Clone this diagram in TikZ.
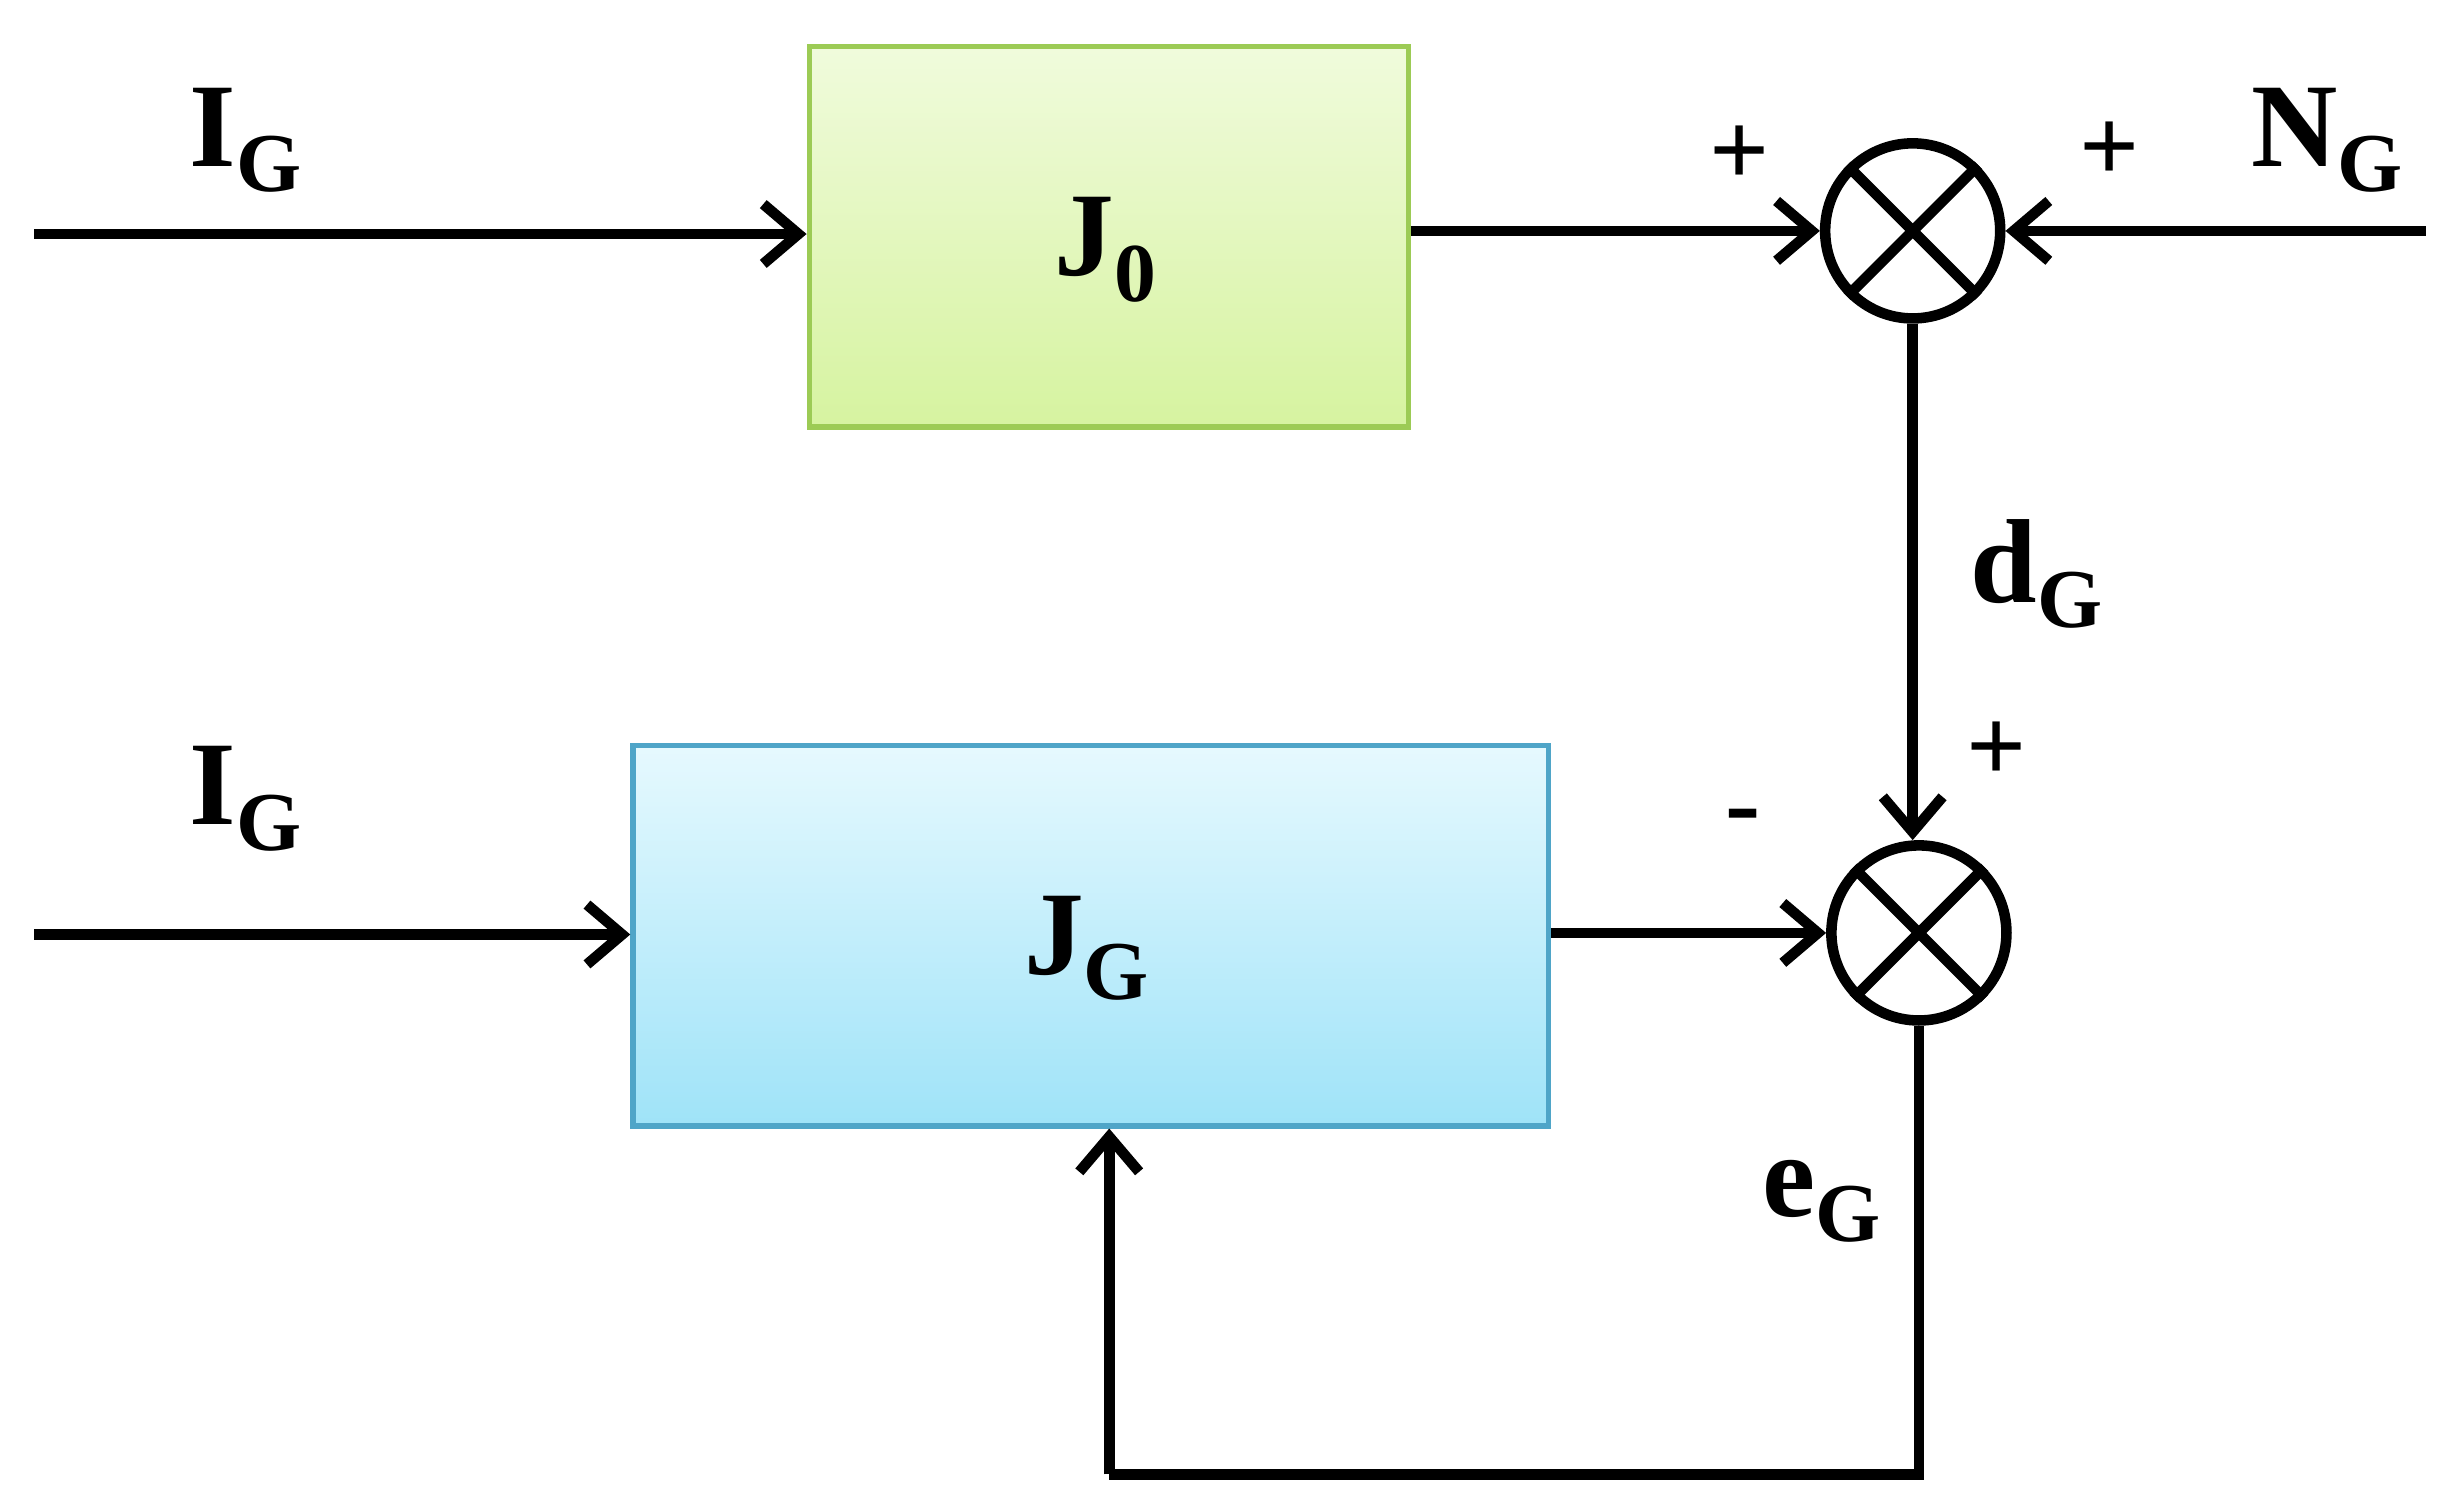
\documentclass[tikz,border=0pt]{standalone}
\usepackage{fontspec}
\setmainfont{Liberation Serif}
\usetikzlibrary{arrows.meta,shapes.geometric}
\definecolor{gtop}{HTML}{F0FBDC}\definecolor{gbot}{HTML}{D6F3A0}\definecolor{gbrd}{HTML}{9CCB55}
\definecolor{btop}{HTML}{E6F9FE}\definecolor{bbot}{HTML}{9FE3F8}\definecolor{bbrd}{HTML}{4FA5C8}
\begin{document}
\begin{tikzpicture}[x=0.0156cm,y=-0.0156cm,
  wire/.style={line width=3pt,-{Straight Barb[length=10pt,width=17pt,line width=3pt]}},
  line/.style={line width=3pt},
  sum/.style={circle,draw,line width=3pt,minimum size=1.75cm,inner sep=0pt},
  lab/.style={font=\bfseries\fontsize{34}{40}\selectfont},
  sgn/.style={font=\bfseries\fontsize{30}{36}\selectfont}]
\useasboundingbox (0,0) rectangle (1564,968);
\node[draw=gbrd,line width=1.5pt,top color=gtop,bottom color=gbot,minimum width=384*0.0156cm,minimum height=244*0.0156cm,anchor=north west] (J0) at (517,28) {};
\node[lab] (J0t) at (709,160) {J\textsubscript{0}};
\node[draw=bbrd,line width=1.5pt,top color=btop,bottom color=bbot,minimum width=587*0.0156cm,minimum height=244*0.0156cm,anchor=north west] (JG) at (404,476) {};
\node[lab] (JGt) at (697,608) {J\textsubscript{G}};
\node[sum] (s1) at (1226,148) {};
\node[sum] (s2) at (1230,598) {};
\foreach \s in {s1,s2}{
  \draw[line] (\s.45) -- (\s.225);
  \draw[line] (\s.135) -- (\s.315);}
\coordinate (i1) at (22,150); \coordinate (i2) at (22,599);
\coordinate (n) at (1555,148);
\coordinate (c1) at (1230,945); \coordinate (c2) at (711,945);
\draw[wire] (i1) -- (J0.west|-i1);
\draw[wire] (i2) -- (JG.west|-i2);
\draw[wire] (J0.east|-s1) -- (s1.west);
\draw[wire] (n) -- (s1.east);
\draw[wire] (s1.south) -- (s1.south|-s2.north);
\draw[wire] (JG.east|-s2) -- (s2.west);
\draw[line] (s2.south) -- (c1) -- (c2);
\draw[wire] (c2) -- (JG.south-|c2);
\node[lab] (l1) at (158,90) {I\textsubscript{G}};
\node[lab] (l2) at (158,512) {I\textsubscript{G}};
\node[lab] (l3) at (1492,90) {N\textsubscript{G}};
\node[lab] (l4) at (1306,368) {d\textsubscript{G}};
\node[lab] (l5) at (1168,770) {e\textsubscript{G}};
\node[sgn] (p1) at (1115,100) {+};
\node[sgn] (p2) at (1352,97) {+};
\node[sgn] (p3) at (1280,482) {+};
\node[sgn] (m1) at (1117,528) {-};
\end{tikzpicture}
\end{document}
